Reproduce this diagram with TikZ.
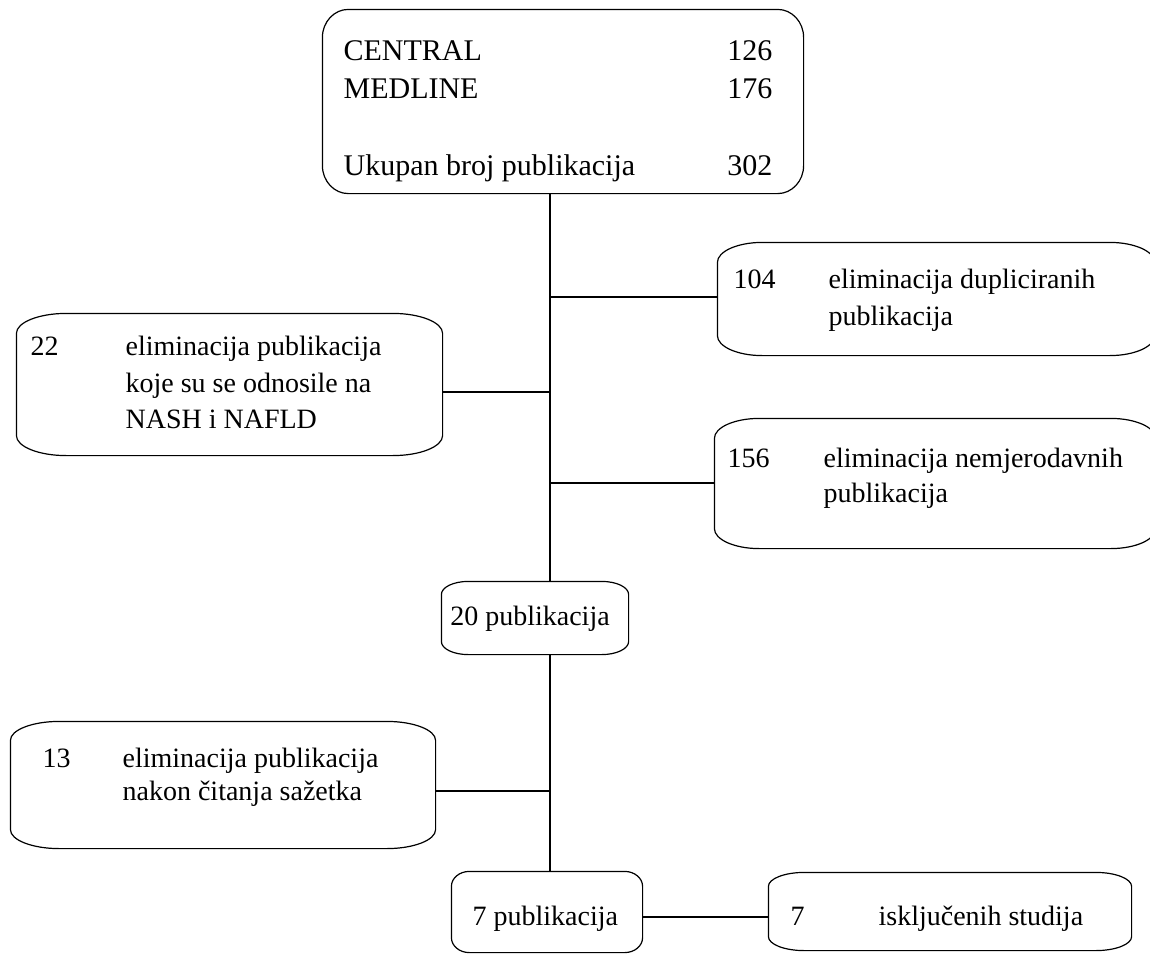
\documentclass[tikz,border=0pt]{standalone}
\usepackage{fontspec}
\setmainfont{Liberation Serif}
\tikzset{
    box/.style={inner sep=0pt},
    txt/.style={anchor=base west, inner sep=0pt},
    num/.style={anchor=base east, inner sep=0pt},
    big/.style={font=\fontsize{30}{36}\selectfont},
}
\begin{document}
\begin{tikzpicture}[x=1pt, y=-1pt, line width=1.2pt, font=\fontsize{28}{34}\selectfont]
    \useasboundingbox (0,0) rectangle (1150,953);
    \clip (0,0) rectangle (1150,953);

    % boxes
    \node[box, minimum width=480pt, minimum height=183pt] (src) at (563,101.5) {};
    \node[box, minimum width=436pt, minimum height=112pt] (dup) at (936,299) {};
    \node[box, minimum width=425pt, minimum height=141pt] (nash) at (229.5,384.5) {};
    \node[box, minimum width=440pt, minimum height=129pt] (nem) at (935,483.5) {};
    \node[box, minimum width=186pt, minimum height=72pt] (pub20) at (535,618) {};
    \node[box, minimum width=424pt, minimum height=126pt] (abs) at (223,785) {};
    \node[box, minimum width=190pt, minimum height=80pt] (pub7) at (547,912) {};
    \node[box, minimum width=362pt, minimum height=77pt] (incl) at (950,911.5) {};

    % outlines with oval corners
    \foreach \n/\rx/\ry in {src/26/28, dup/45/20, nash/50/20, nem/45/20,
                            pub20/27/13, abs/49/19, pub7/18/15, incl/36/14} {
        \draw ([xshift=\rx pt]\n.north west) -- ([xshift=-\rx pt]\n.north east)
            arc[start angle=90, end angle=0, x radius=\rx pt, y radius=\ry pt]
            -- ([yshift=\ry pt]\n.south east)
            arc[start angle=0, end angle=-90, x radius=\rx pt, y radius=\ry pt]
            -- ([xshift=\rx pt]\n.south west)
            arc[start angle=270, end angle=180, x radius=\rx pt, y radius=\ry pt]
            -- ([yshift=-\ry pt]\n.north west)
            arc[start angle=180, end angle=90, x radius=\rx pt, y radius=\ry pt]
            -- cycle;
    }

    % texts
    \node[txt, big] (central) at (343,60) {CENTRAL};
    \node[txt, big] (medline) at (343,98) {MEDLINE};
    \node[txt, big] (total) at (343,175) {Ukupan broj publikacija};
    \node[num, big] (ncentral) at (773,60) {126};
    \node[num, big] (nmedline) at (773,98) {176};
    \node[num, big] (ntotal) at (773,175) {302};

    \node[txt] (ndup) at (733,288) {104};
    \node[txt] (dup1) at (828,288) {eliminacija dupliciranih};
    \node[txt] (dup2) at (828,325) {publikacija};

    \node[txt] (nnash) at (30,355) {22};
    \node[txt] (nash1) at (125,355) {eliminacija publikacija};
    \node[txt] (nash2) at (125,392) {koje su se odnosile na};
    \node[txt] (nash3) at (125,428) {NASH i NAFLD};

    \node[txt] (nnem) at (727,467) {156};
    \node[txt] (nem1) at (823,467) {eliminacija nemjerodavnih};
    \node[txt] (nem2) at (823,502) {publikacija};

    \node[anchor=base, inner sep=0pt] (t20) at (530,625) {20 publikacija};

    \node[txt] (nabs) at (42,767) {13};
    \node[txt] (abs1) at (122,767) {eliminacija publikacija};
    \node[txt] (abs2) at (122,800) {nakon čitanja sažetka};

    \node[txt] (t7) at (472,925) {7 publikacija};
    \node[txt] (nincl) at (790,925) {7};
    \node[txt] (incl1) at (878,925) {isključenih studija};

    % connectors
    \coordinate (spine) at (550,0);
    \draw (src.south -| spine) -- (pub20.north -| spine);
    \draw (pub20.south -| spine) -- (pub7.north -| spine);
    \coordinate (jdup) at (550,297);
    \coordinate (jnash) at (550,392);
    \coordinate (jnem) at (550,483);
    \coordinate (jabs) at (550,791);
    \coordinate (jincl) at (0,917);
    \draw (jdup) -- (jdup -| dup.west);
    \draw (jnash) -- (jnash -| nash.east);
    \draw (jnem) -- (jnem -| nem.west);
    \draw (jabs) -- (jabs -| abs.east);
    \draw (pub7.east |- jincl) -- (incl.west |- jincl);
\end{tikzpicture}
\end{document}
